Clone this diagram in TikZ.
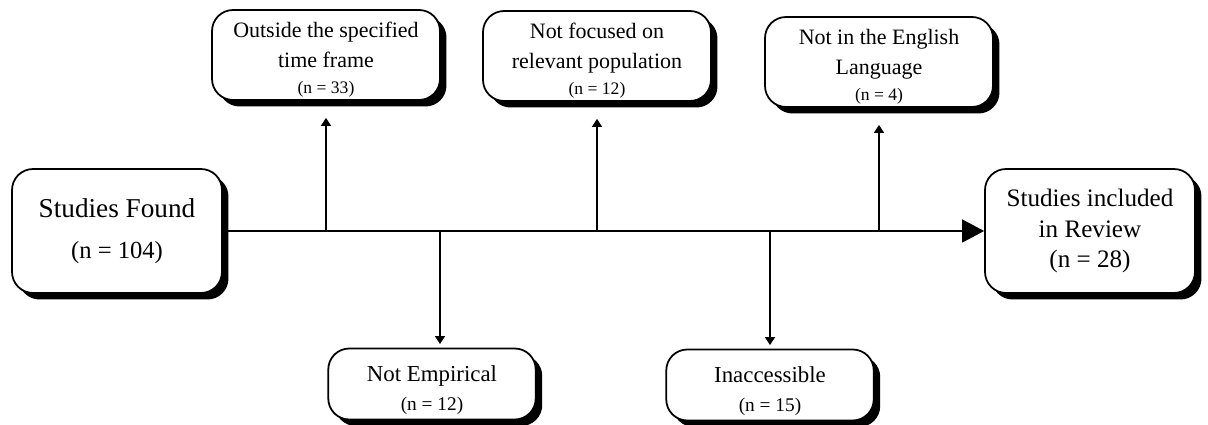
\documentclass[tikz,border=0pt]{standalone}
\usepackage{fontspec}
\setmainfont{Liberation Serif}
\usetikzlibrary{shadows,arrows.meta}

\begin{document}
\begin{tikzpicture}[
        x=0.02cm, y=-0.02cm,
        box/.style={draw, line width=1pt, fill=white, rounded corners=0.42cm, align=center, inner sep=0pt,
                drop shadow={shadow xshift=0.13cm, shadow yshift=-0.13cm, fill=black, opacity=1}},
        upbox/.style={box, minimum width=4.56cm, minimum height=1.8cm, font=\fontsize{12.5}{17}\selectfont},
        downbox/.style={box, minimum width=4.15cm, minimum height=1.42cm, font=\fontsize{13}{15}\selectfont},
        bigbox/.style={box, minimum width=4.2cm, minimum height=2.48cm},
        branch/.style={line width=1.1pt, -{Triangle[length=4.5pt,width=5.5pt]}},
        mainline/.style={line width=1.1pt, -{Triangle[length=12.5pt,width=13pt]}}
    ]
    \useasboundingbox (0,0) rectangle (1208,425);

    \node[bigbox, font=\fontsize{15.5}{18}\selectfont] (found) at (117,231)
        {Studies Found\\[5pt]{\fontsize{14}{16}\selectfont(n = 104)}};
    \node[bigbox, font=\fontsize{14.3}{17.5}\selectfont] (incl) at (1090,231)
        {Studies included\\in Review\\(n = 28)};

    \node[upbox] (out) at (326,55)
        {\rule{0pt}{14pt}Outside the specified\\time frame\\[-2pt]{\fontsize{10}{12}\selectfont(n = 33)}};
    \node[upbox] (foc) at (597,56)
        {\rule{0pt}{14pt}Not focused on\\relevant population\\[-2pt]{\fontsize{10}{12}\selectfont(n = 12)}};
    \node[upbox] (eng) at (879,62)
        {\rule{0pt}{14pt}Not in the English\\Language\\[-2pt]{\fontsize{10}{12}\selectfont(n = 4)}};

    \node[downbox] (emp) at (432,384)
        {\rule{0pt}{16pt}Not Empirical\\[1pt]{\fontsize{11}{13}\selectfont(n = 12)}};
    \node[downbox] (inac) at (770,385)
        {\rule{0pt}{16pt}Inaccessible\\[1pt]{\fontsize{11}{13}\selectfont(n = 15)}};

    \draw[mainline] (found.east) -- (incl.west);

    \draw[branch, shorten >=0.34cm] (out.south |- found.east) -- (out.south);
    \draw[branch, shorten >=0.34cm] (foc.south |- found.east) -- (foc.south);
    \draw[branch, shorten >=0.34cm] (eng.south |- found.east) -- (eng.south);
    \draw[branch, shorten >=2pt] ([xshift=0.16cm]emp.north |- found.east) -- ([xshift=0.16cm]emp.north);
    \draw[branch, shorten >=2pt] (inac.north |- found.east) -- (inac.north);
\end{tikzpicture}
\end{document}
